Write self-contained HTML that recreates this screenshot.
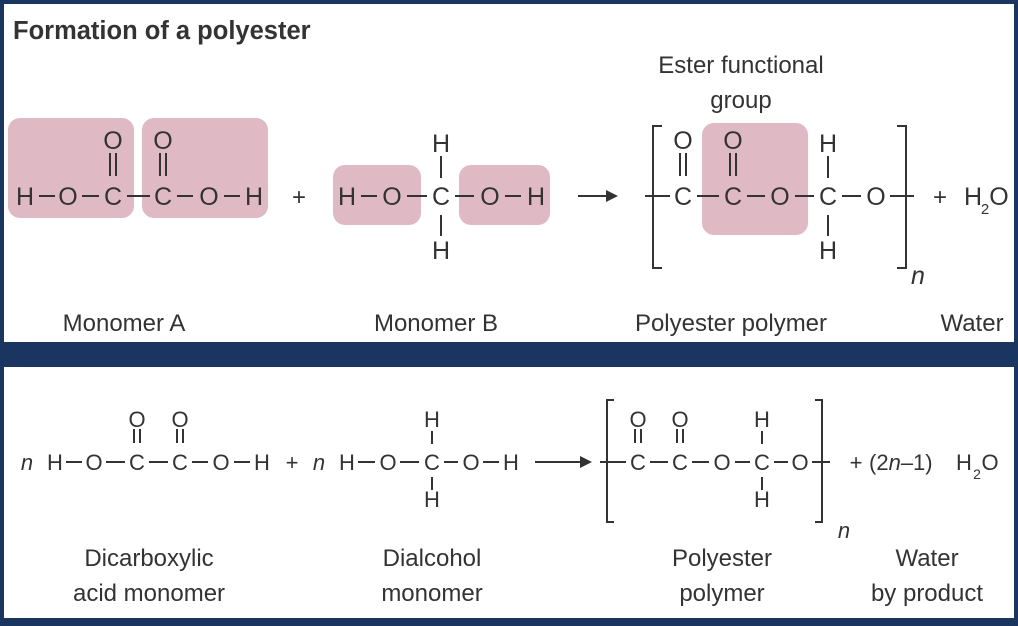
<!DOCTYPE html>
<html><head><meta charset="utf-8"><style>
html,body{margin:0;padding:0;background:#1a3a64;}
svg{display:block}
text{font-family:"Liberation Sans",sans-serif;fill:#333;}
</style></head><body>
<svg width="1018" height="626" viewBox="0 0 1018 626" xmlns="http://www.w3.org/2000/svg">
<rect x="0" y="0" width="1018" height="626" fill="#1a3660"/>
<rect x="4" y="4" width="1010" height="338" fill="#fff"/>
<rect x="4" y="367" width="1010" height="251" fill="#fff"/>
<text x="13" y="39" font-size="25.5" font-weight="bold">Formation of a polyester</text>

<g fill="#dfbac4">
<rect x="8" y="118" width="126" height="100" rx="12"/>
<rect x="142" y="118" width="126" height="100" rx="12"/>
<rect x="333" y="165" width="88" height="60" rx="12"/>
<rect x="459" y="165" width="91" height="60" rx="12"/>
<rect x="702" y="123" width="106" height="112" rx="12"/>
</g>

<g stroke="#333" stroke-width="2" fill="none">
<line x1="39" y1="196" x2="55" y2="196"/>
<line x1="82" y1="196" x2="99" y2="196"/>
<line x1="127" y1="196" x2="150" y2="196"/>
<line x1="177" y1="196" x2="193" y2="196"/>
<line x1="224" y1="196" x2="240" y2="196"/>
<line x1="110" y1="153" x2="110" y2="176"/><line x1="116" y1="153" x2="116" y2="176"/>
<line x1="160" y1="153" x2="160" y2="176"/><line x1="166" y1="153" x2="166" y2="176"/>

<line x1="361" y1="196" x2="377" y2="196"/>
<line x1="407" y1="196" x2="427" y2="196"/>
<line x1="455" y1="196" x2="474" y2="196"/>
<line x1="505" y1="196" x2="521" y2="196"/>
<line x1="441" y1="156" x2="441" y2="178"/>
<line x1="441" y1="215" x2="441" y2="236"/>

<line x1="578" y1="196" x2="612" y2="196"/>

<path d="M662 126 H653 V268 H662"/>
<path d="M897 126 H906 V268 H897"/>
<line x1="645" y1="196" x2="670" y2="196"/>
<line x1="697" y1="196" x2="719" y2="196"/>
<line x1="747" y1="196" x2="765" y2="196"/>
<line x1="795" y1="196" x2="814" y2="196"/>
<line x1="842" y1="196" x2="861" y2="196"/>
<line x1="890" y1="196" x2="914" y2="196"/>
<line x1="680" y1="153" x2="680" y2="176"/><line x1="686" y1="153" x2="686" y2="176"/>
<line x1="730" y1="153" x2="730" y2="176"/><line x1="736" y1="153" x2="736" y2="176"/>
<line x1="828" y1="156" x2="828" y2="178"/>
<line x1="828" y1="215" x2="828" y2="236"/>

<line x1="66" y1="462" x2="82" y2="462"/>
<line x1="106" y1="462" x2="125" y2="462"/>
<line x1="149" y1="462" x2="168" y2="462"/>
<line x1="192" y1="462" x2="208" y2="462"/>
<line x1="234" y1="462" x2="250" y2="462"/>
<line x1="134" y1="429" x2="134" y2="443"/><line x1="140" y1="429" x2="140" y2="443"/>
<line x1="177" y1="429" x2="177" y2="443"/><line x1="183" y1="429" x2="183" y2="443"/>

<line x1="358" y1="462" x2="375" y2="462"/>
<line x1="400" y1="462" x2="419" y2="462"/>
<line x1="444" y1="462" x2="458" y2="462"/>
<line x1="483" y1="462" x2="499" y2="462"/>
<line x1="432" y1="431" x2="432" y2="444"/>
<line x1="432" y1="477" x2="432" y2="490"/>

<line x1="535" y1="462" x2="586" y2="462"/>

<path d="M614 400 H607 V522 H614"/>
<path d="M815 400 H822 V522 H815"/>
<line x1="600" y1="462" x2="626" y2="462"/>
<line x1="650" y1="462" x2="668" y2="462"/>
<line x1="692" y1="462" x2="709" y2="462"/>
<line x1="735" y1="462" x2="750" y2="462"/>
<line x1="774" y1="462" x2="788" y2="462"/>
<line x1="812" y1="462" x2="830" y2="462"/>
<line x1="635" y1="429" x2="635" y2="443"/><line x1="641" y1="429" x2="641" y2="443"/>
<line x1="677" y1="429" x2="677" y2="443"/><line x1="683" y1="429" x2="683" y2="443"/>
<line x1="762" y1="431" x2="762" y2="444"/>
<line x1="762" y1="477" x2="762" y2="490"/>
</g>
<polygon points="618,196 606,190 606,202" fill="#333"/>
<polygon points="592,462 580,456 580,468" fill="#333"/>

<g font-size="25" text-anchor="middle">
<text x="25" y="205">H</text><text x="68" y="205">O</text><text x="113" y="205">C</text>
<text x="163" y="205">C</text><text x="209" y="205">O</text><text x="254" y="205">H</text>
<text x="113" y="149">O</text><text x="163" y="149">O</text>
<text x="299" y="205" font-size="24">+</text>
<text x="347" y="205">H</text><text x="392" y="205">O</text><text x="441" y="205">C</text>
<text x="490" y="205">O</text><text x="536" y="205">H</text>
<text x="441" y="152">H</text><text x="441" y="259">H</text>
<text x="683" y="205">C</text><text x="733" y="205">C</text><text x="780" y="205">O</text>
<text x="828" y="205">C</text><text x="876" y="205">O</text>
<text x="683" y="149">O</text><text x="733" y="149">O</text>
<text x="828" y="152">H</text><text x="828" y="259">H</text>
<text x="940" y="205" font-size="24">+</text>
<text x="973" y="205">H</text><text x="999" y="205">O</text>
<text x="985" y="214" font-size="15">2</text>
<text x="918" y="284" font-style="italic">n</text>

<g font-size="22">
<text x="27" y="470" font-style="italic">n</text>
<text x="55" y="470">H</text><text x="94" y="470">O</text><text x="137" y="470">C</text>
<text x="180" y="470">C</text><text x="221" y="470">O</text><text x="262" y="470">H</text>
<text x="137" y="427">O</text><text x="180" y="427">O</text>
<text x="292" y="470">+</text><text x="319" y="470" font-style="italic">n</text>
<text x="347" y="470">H</text><text x="388" y="470">O</text><text x="432" y="470">C</text>
<text x="471" y="470">O</text><text x="511" y="470">H</text>
<text x="432" y="427">H</text><text x="432" y="507">H</text>
<text x="638" y="470">C</text><text x="680" y="470">C</text><text x="722" y="470">O</text>
<text x="762" y="470">C</text><text x="800" y="470">O</text>
<text x="638" y="427">O</text><text x="680" y="427">O</text>
<text x="762" y="427">H</text><text x="762" y="507">H</text>
<text x="844" y="538" font-style="italic">n</text>
<text x="856" y="470">+</text>
<text x="869" y="470" text-anchor="start">(2<tspan font-style="italic">n</tspan>–1)</text>
<text x="964" y="470">H</text><text x="990" y="470">O</text>
<text x="977" y="479" font-size="14">2</text>
</g>
</g>

<g font-size="24" text-anchor="middle">
<text x="741" y="73">Ester functional</text>
<text x="741" y="108">group</text>
<text x="124" y="331">Monomer A</text>
<text x="436" y="331">Monomer B</text>
<text x="731" y="331">Polyester polymer</text>
<text x="972" y="331">Water</text>
<text x="149" y="566">Dicarboxylic</text>
<text x="149" y="601">acid monomer</text>
<text x="432" y="566">Dialcohol</text>
<text x="432" y="601">monomer</text>
<text x="722" y="566">Polyester</text>
<text x="722" y="601">polymer</text>
<text x="927" y="566">Water</text>
<text x="927" y="601">by product</text>
</g>
</svg>
</body></html>
